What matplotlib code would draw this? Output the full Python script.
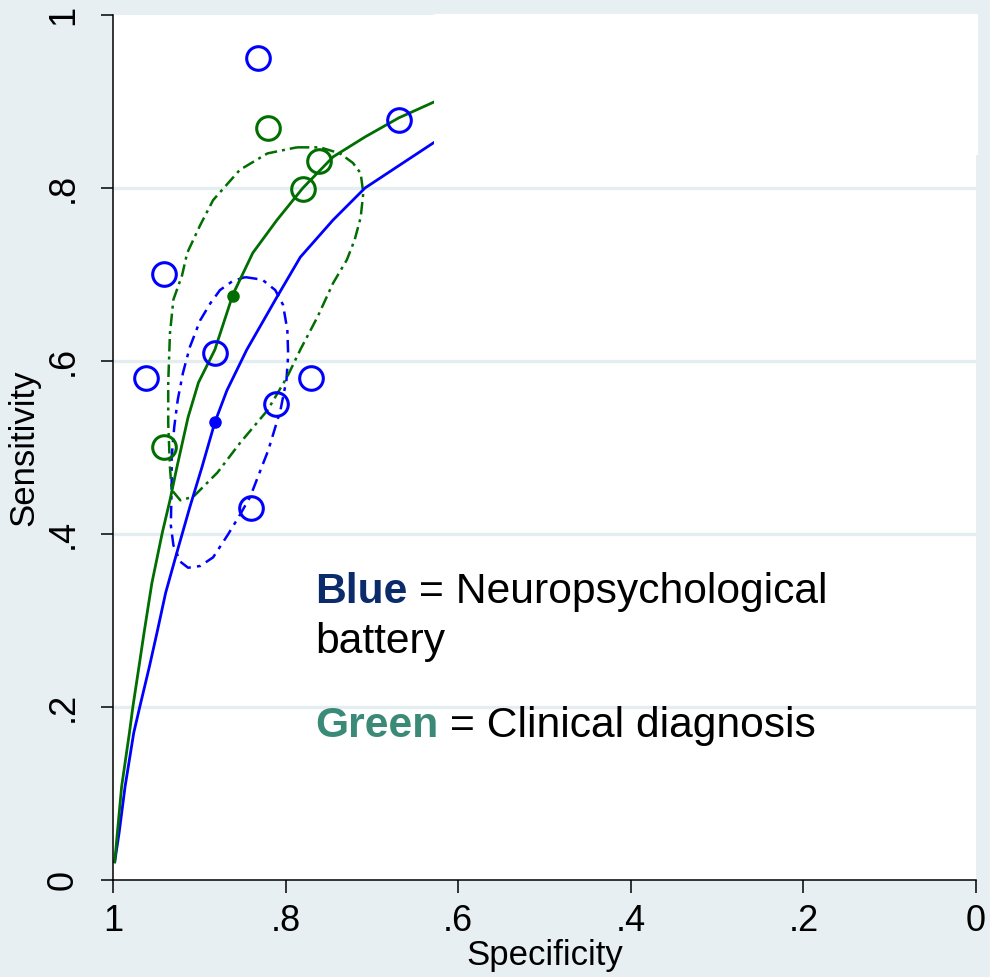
"""SROC plot: neuropsychological battery vs clinical diagnosis."""

import matplotlib

matplotlib.use("Agg")
import matplotlib.pyplot as plt
from matplotlib.patches import Rectangle

plt.rcParams["font.family"] = ["Liberation Sans", "DejaVu Sans"]

# study estimates (specificity, sensitivity)
blue_spec = [0.832, 0.669, 0.941, 0.962, 0.882, 0.771, 0.811, 0.840]
blue_sens = [0.950, 0.879, 0.701, 0.580, 0.609, 0.580, 0.550, 0.430]
green_spec = [0.820, 0.761, 0.780, 0.941]
green_sens = [0.869, 0.831, 0.799, 0.501]

# summary points
blue_summary = (0.882, 0.529)
green_summary = (0.861, 0.675)

# HSROC curves, traced
blue_curve_spec = [0.998, 0.993, 0.986, 0.976, 0.969, 0.958, 0.949, 0.939, 0.925, 0.911,
                   0.897, 0.882, 0.868, 0.845, 0.810, 0.783, 0.745, 0.708, 0.667, 0.629, 0.615]
blue_curve_sens = [0.021, 0.054, 0.108, 0.170, 0.200, 0.246, 0.286, 0.332, 0.382, 0.431,
                   0.477, 0.529, 0.566, 0.613, 0.674, 0.720, 0.763, 0.800, 0.827, 0.852, 0.860]
green_curve_spec = [0.998, 0.995, 0.990, 0.981, 0.977, 0.970, 0.964, 0.955, 0.943, 0.934, 0.926,
                    0.913, 0.901, 0.882, 0.861, 0.838, 0.810, 0.780, 0.745, 0.708, 0.669, 0.629, 0.615]
green_curve_sens = [0.021, 0.054, 0.108, 0.170, 0.200, 0.246, 0.286, 0.343, 0.401, 0.439, 0.477,
                    0.535, 0.575, 0.613, 0.677, 0.725, 0.763, 0.800, 0.836, 0.859, 0.881, 0.899, 0.905]

# 95% regions, traced
green_region_spec = [0.787, 0.760, 0.737, 0.722, 0.713, 0.710, 0.713, 0.720, 0.729, 0.745, 0.763,
                     0.783, 0.798, 0.821, 0.853, 0.879, 0.907, 0.922, 0.932, 0.934, 0.936, 0.936,
                     0.934, 0.930, 0.920, 0.914, 0.899, 0.884, 0.853, 0.821, 0.787]
green_region_sens = [0.847, 0.847, 0.840, 0.829, 0.817, 0.794, 0.766, 0.740, 0.717, 0.690, 0.651,
                     0.613, 0.582, 0.543, 0.505, 0.471, 0.443, 0.439, 0.451, 0.477, 0.528, 0.575,
                     0.632, 0.671, 0.699, 0.725, 0.757, 0.786, 0.821, 0.840, 0.847]
blue_region_spec = [0.847, 0.827, 0.812, 0.803, 0.798, 0.797, 0.799, 0.806, 0.813, 0.820, 0.829,
                    0.841, 0.853, 0.867, 0.884, 0.899, 0.913, 0.922, 0.930, 0.933, 0.932, 0.932,
                    0.929, 0.925, 0.919, 0.911, 0.899, 0.887, 0.876, 0.862, 0.847]
blue_region_sens = [0.697, 0.694, 0.682, 0.665, 0.636, 0.607, 0.578, 0.543, 0.520, 0.497, 0.474,
                    0.443, 0.422, 0.399, 0.373, 0.363, 0.361, 0.368, 0.387, 0.410, 0.459, 0.489,
                    0.524, 0.555, 0.586, 0.616, 0.647, 0.667, 0.682, 0.692, 0.697]

ticks = [1, 0.8, 0.6, 0.4, 0.2, 0]
tick_labels = ["1", ".8", ".6", ".4", ".2", "0"]

BG = "#e8eff2"
BLUE = "#0000ff"
GREEN = "#006e00"

W, H = 990, 977
fig = plt.figure(figsize=(W / 100, H / 100), dpi=100)
fig.patch.set_facecolor(BG)
ax = fig.add_axes([113 / W, 1 - 880 / H, 863 / W, 865 / H])
ax.set_facecolor("white")

for y in [0.2, 0.4, 0.6, 0.8]:
    ax.axhline(y, color="#e4edf0", lw=2.4, zorder=0)

ax.plot(blue_region_spec, blue_region_sens, color=BLUE, lw=1.8, dashes=(5, 2.5, 1.5, 2.5))
ax.plot(green_region_spec, green_region_sens, color=GREEN, lw=1.8, dashes=(5, 2, 1.2, 2))
ax.plot(blue_curve_spec, blue_curve_sens, color=BLUE, lw=2)
ax.plot(green_curve_spec, green_curve_sens, color=GREEN, lw=2)

ax.plot(blue_spec, blue_sens, "o", ms=17, mfc="none", mec=BLUE, mew=2.2)
ax.plot(green_spec, green_sens, "o", ms=17, mfc="none", mec=GREEN, mew=2.2)
ax.plot(*blue_summary, "o", ms=8, color=BLUE)
ax.plot(*green_summary, "o", ms=8, color=GREEN)

ax.set_xlim(1, 0)
ax.set_ylim(0, 1)
ax.set_xticks(ticks)
ax.set_xticklabels(tick_labels)
ax.set_yticks(ticks)
ax.set_yticklabels(tick_labels, rotation=90, va="center")
ax.tick_params(length=9, width=1.1, labelsize=26, pad=8)
ax.tick_params(axis="y", pad=14)
for side in ["top", "right"]:
    ax.spines[side].set_visible(False)
for side in ["left", "bottom"]:
    ax.spines[side].set_linewidth(1.1)
ax.set_xlabel("Specificity", fontsize=25, labelpad=0)
ax.set_ylabel("Sensitivity", fontsize=25, labelpad=4)

# white box pasted over the upper right of the chart
fig.patches.append(Rectangle((434 / W, 1 - 155 / H), 544 / W, 141 / H,
                             transform=fig.transFigure, facecolor="white", edgecolor="none", zorder=5))

# legend note built from coloured pieces
renderer = fig.canvas.get_renderer()


def note(x, y, pieces):
    for text, color, weight in pieces:
        t = fig.text(x / W, 1 - y / H, text, color=color, fontweight=weight, fontsize=30.7,
                     va="baseline", ha="left")
        x = t.get_window_extent(renderer).x1


note(315, 603, [("Blue", "#0c2b6b", "bold"), (" = Neuropsychological", "black", "normal")])
note(315, 653, [("battery", "black", "normal")])
note(315, 737, [("Green", "#3b8a78", "bold"), (" = Clinical diagnosis", "black", "normal")])

fig.savefig("out.png", dpi=100, facecolor=BG)
